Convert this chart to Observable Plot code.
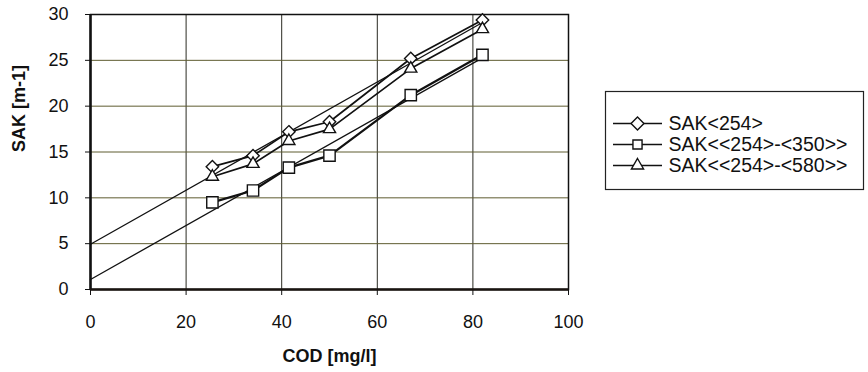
<!DOCTYPE html>
<html>
<head>
<meta charset="utf-8">
<script src="https://cdn.jsdelivr.net/npm/d3@7"></script>
<script src="https://cdn.jsdelivr.net/npm/@observablehq/plot@0.6"></script>
<style>
  html, body { margin: 0; padding: 0; background: #fff; }
  #wrap { position: relative; width: 868px; height: 372px; overflow: hidden; }
  #legend { position: absolute; left: 605px; top: 91px; }
</style>
</head>
<body>
<div id="wrap">
  <div id="chart"></div>
  <div id="legend"></div>
</div>
<script>
// COD concentration of the samples [mg/l]
const cod = [25.5, 34, 41.5, 50, 67, 82];
// Spectral absorption coefficients [m-1]
const sak254 = [13.4, 14.6, 17.2, 18.3, 25.2, 29.4];
const sak254_350 = [9.5, 10.8, 13.3, 14.6, 21.2, 25.6];
const sak254_580 = [12.3, 13.7, 16.2, 17.5, 24.1, 28.4];

const seriesNames = ["SAK<254>", "SAK<<254>-<350>>", "SAK<<254>-<580>>"];
const seriesSymbols = ["diamond2", "square2", "triangle2"];
const seriesRadius = [5.6, 7.2, 5.8];

const xTicks = [0, 20, 40, 60, 80, 100];
const yTicks = [0, 5, 10, 15, 20, 25, 30];

const xTitle = "COD [mg/l]";
const yTitle = "SAK [m-1]";

const font = "'Liberation Sans', Arial, Helvetica, sans-serif";

// long-format table for the three series
const seriesValues = [sak254, sak254_350, sak254_580];
const rows = seriesNames.flatMap((name, s) =>
  cod.map((x, i) => ({series: name, cod: x, sak: seriesValues[s][i]}))
);

// least-squares trend, forecast backward to the start of the COD axis
function trend(xs, ys, name) {
  const mx = d3.mean(xs), my = d3.mean(ys);
  const b = d3.sum(xs, (x, i) => (x - mx) * (ys[i] - my)) / d3.sum(xs, x => (x - mx) ** 2);
  const a = my - b * mx;
  const x0 = xTicks[0], x1 = d3.max(xs);
  return [{series: name, cod: x0, sak: a + b * x0}, {series: name, cod: x1, sak: a + b * x1}];
}
const trendRows = [
  ...trend(cod, sak254, seriesNames[0]),
  ...trend(cod, sak254_350, seriesNames[1])
];

const chart = Plot.plot({
  width: 868,
  height: 372,
  marginLeft: 90,
  marginRight: 300,
  marginTop: 14,
  marginBottom: 83,
  style: {fontFamily: font, fontSize: "18px", color: "#111", background: "#fff", overflow: "visible"},
  x: {domain: [0, 100], ticks: xTicks},
  y: {domain: [0, 30], ticks: yTicks},
  marks: [
    Plot.gridX(xTicks.slice(1, -1), {stroke: "#2a2a22", strokeOpacity: 1, strokeWidth: 1}),
    Plot.gridY(yTicks.slice(1, -1), {stroke: "#5e5c30", strokeOpacity: 1, strokeWidth: 1}),
    Plot.axisX({ticks: xTicks, tickSize: 6, tickPadding: 20, label: null, stroke: "#111"}),
    Plot.axisY({ticks: yTicks, tickSize: 5, tickPadding: 17, label: null, stroke: "#111"}),
    Plot.frame({stroke: "#111", strokeWidth: 1.5}),
    Plot.ruleX([0], {stroke: "#111", strokeWidth: 2.5}),
    Plot.ruleY([0], {stroke: "#1a1410", strokeWidth: 2.5}),
    // trend lines
    Plot.line(trendRows, {x: "cod", y: "sak", z: "series", stroke: "#111", strokeWidth: 1.3}),
    // measured series
    ...seriesNames.map((name, s) =>
      Plot.line(rows.filter(d => d.series === name), {
        x: "cod", y: "sak", stroke: "#111", strokeWidth: s === 1 ? 2.2 : 1.7
      })
    ),
    ...seriesNames.map((name, s) =>
      Plot.dot(rows.filter(d => d.series === name), {
        x: "cod", y: "sak", symbol: seriesSymbols[s], r: seriesRadius[s],
        fill: "#fff", stroke: "#111", strokeWidth: 1.4
      })
    ),
    // axis titles
    Plot.text([xTitle], {frameAnchor: "bottom", dy: 72, text: d => d, fontWeight: "bold", fontSize: 18, fill: "#111"}),
    Plot.text([yTitle], {frameAnchor: "left", dx: -71, rotate: -90, text: d => d, fontWeight: "bold", fontSize: 18, fill: "#111"})
  ]
});
document.getElementById("chart").append(chart);

// legend: line with marker, then the series name
const legend = Plot.plot({
  width: 258,
  height: 98,
  margin: 0,
  style: {fontFamily: font, fontSize: "19.5px", color: "#111", background: "#fff", overflow: "visible"},
  x: {type: "identity", axis: null},
  y: {type: "point", domain: seriesNames, range: [20, 85], axis: null},
  symbol: {domain: seriesNames, range: seriesSymbols},
  marks: [
    Plot.frame({stroke: "#222", strokeWidth: 1.2}),
    Plot.ruleY(seriesNames, {y: d => d, x1: 8, x2: 57, stroke: "#111", strokeWidth: 1.7}),
    Plot.dot(seriesNames, {x: 32, y: d => d, symbol: d => d, r: 5.8, fill: "#fff", stroke: "#111", strokeWidth: 1.4}),
    Plot.text(seriesNames, {x: 63, y: d => d, text: d => d, textAnchor: "start", fill: "#111"})
  ]
});
document.getElementById("legend").append(legend);
</script>
</body>
</html>
